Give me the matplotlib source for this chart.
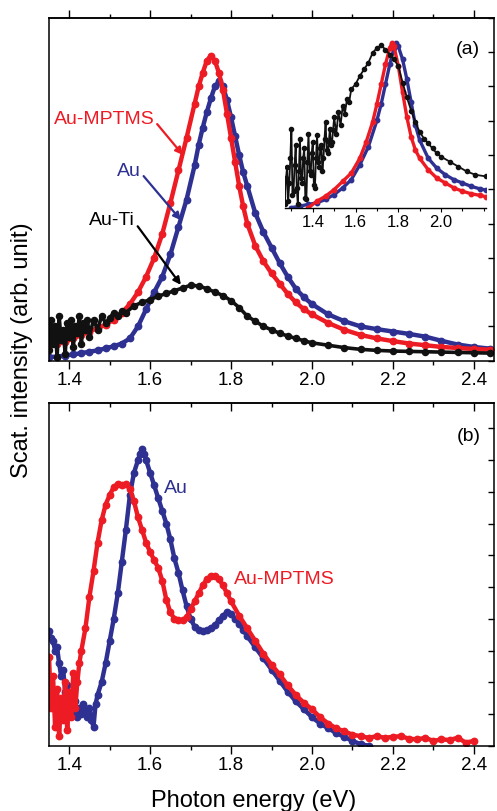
import matplotlib
matplotlib.use("Agg")
import matplotlib.pyplot as plt
from matplotlib.ticker import MultipleLocator

plt.rcParams['font.family'] = ['Liberation Sans', 'DejaVu Sans']

RED = '#ed1c24'
BLUE = '#2e3192'
BLACK = '#111111'

# ---- (a) dark-field spectra, single particles ----
e_au_a = [1.35, 1.37, 1.39, 1.41, 1.43, 1.45, 1.47, 1.49, 1.51, 1.53, 1.55, 1.57,
          1.59, 1.61, 1.63, 1.65, 1.67, 1.69, 1.71, 1.72, 1.73, 1.74, 1.75, 1.76,
          1.77, 1.78, 1.79, 1.80, 1.81, 1.82, 1.83, 1.84, 1.86, 1.88, 1.90, 1.92,
          1.94, 1.96, 1.98, 2.00, 2.04, 2.08, 2.12, 2.16, 2.20, 2.24, 2.28, 2.32,
          2.36, 2.40, 2.44]
au_a = [0.010, 0.012, 0.015, 0.018, 0.022, 0.026, 0.030, 0.036, 0.042, 0.050, 0.065,
        0.100, 0.150, 0.200, 0.245, 0.310, 0.390, 0.470, 0.570, 0.630, 0.680, 0.725,
        0.765, 0.800, 0.815, 0.800, 0.760, 0.710, 0.655, 0.600, 0.550, 0.510, 0.430,
        0.375, 0.330, 0.285, 0.245, 0.210, 0.185, 0.165, 0.135, 0.115, 0.100, 0.092,
        0.085, 0.078, 0.070, 0.058, 0.047, 0.040, 0.035]

e_mptms_a = [1.35, 1.37, 1.39, 1.41, 1.43, 1.45, 1.47, 1.49, 1.51, 1.53, 1.55, 1.57,
             1.59, 1.61, 1.63, 1.65, 1.67, 1.69, 1.71, 1.72, 1.73, 1.74, 1.75, 1.76,
             1.77, 1.78, 1.79, 1.80, 1.81, 1.82, 1.83, 1.84, 1.86, 1.88, 1.90, 1.92,
             1.94, 1.96, 1.98, 2.00, 2.04, 2.08, 2.12, 2.16, 2.20, 2.24, 2.28, 2.32,
             2.36, 2.40, 2.44]
mptms_a = [0.045, 0.050, 0.055, 0.065, 0.075, 0.085, 0.095, 0.105, 0.120, 0.140, 0.165,
           0.200, 0.245, 0.300, 0.370, 0.460, 0.555, 0.650, 0.750, 0.800, 0.840, 0.875,
           0.890, 0.875, 0.840, 0.790, 0.720, 0.650, 0.580, 0.510, 0.450, 0.400, 0.335,
           0.290, 0.255, 0.225, 0.195, 0.170, 0.150, 0.135, 0.110, 0.090, 0.075, 0.065,
           0.057, 0.050, 0.045, 0.040, 0.037, 0.034, 0.032]

e_ti_a = [1.350, 1.355, 1.360, 1.365, 1.370, 1.375, 1.380, 1.385, 1.390, 1.395, 1.400,
          1.405, 1.410, 1.415, 1.420, 1.425, 1.430, 1.435, 1.440, 1.445, 1.450, 1.46,
          1.47, 1.48, 1.49, 1.50, 1.51, 1.52, 1.53, 1.54, 1.56, 1.58, 1.60, 1.62, 1.64,
          1.66, 1.68, 1.70, 1.72, 1.74, 1.76, 1.78, 1.80, 1.82, 1.84, 1.86, 1.88, 1.90,
          1.92, 1.94, 1.96, 1.98, 2.00, 2.04, 2.08, 2.12, 2.16, 2.20, 2.24, 2.28, 2.32,
          2.36, 2.40, 2.44]
ti_a = [0.03, 0.12, 0.05, 0.10, 0.01, 0.13, 0.06, 0.09, 0.02, 0.11, 0.07, 0.12, 0.04,
        0.10, 0.08, 0.13, 0.05, 0.11, 0.09, 0.12, 0.07, 0.12, 0.09, 0.13, 0.11, 0.125,
        0.14, 0.13, 0.145, 0.14, 0.16, 0.17, 0.178, 0.188, 0.196, 0.204, 0.212, 0.220,
        0.218, 0.210, 0.200, 0.190, 0.175, 0.155, 0.130, 0.115, 0.100, 0.090, 0.080,
        0.072, 0.065, 0.058, 0.052, 0.045, 0.038, 0.033, 0.030, 0.028, 0.027, 0.026,
        0.025, 0.024, 0.023, 0.022]

# ---- inset: normalized spectra ----
e_au_in = [1.30, 1.34, 1.38, 1.42, 1.46, 1.50, 1.54, 1.58, 1.62, 1.66, 1.70, 1.72,
           1.74, 1.76, 1.78, 1.79, 1.80, 1.82, 1.84, 1.86, 1.88, 1.90, 1.94, 1.98,
           2.02, 2.06, 2.10, 2.14, 2.18, 2.21]
au_in = [0.00, 0.01, 0.02, 0.03, 0.05, 0.08, 0.12, 0.17, 0.26, 0.37, 0.53, 0.63,
         0.75, 0.87, 0.97, 1.00, 0.98, 0.90, 0.78, 0.64, 0.50, 0.41, 0.30, 0.24,
         0.20, 0.17, 0.15, 0.13, 0.115, 0.107]

e_mptms_in = [1.38, 1.42, 1.46, 1.50, 1.54, 1.58, 1.62, 1.65, 1.68, 1.70, 1.72,
              1.74, 1.76, 1.77, 1.78, 1.80, 1.82, 1.84, 1.86, 1.88, 1.90, 1.94, 1.98,
              2.02, 2.06, 2.10, 2.14, 2.18, 2.21]
mptms_in = [0.00, 0.04, 0.07, 0.11, 0.16, 0.21, 0.30, 0.40, 0.52, 0.63, 0.75, 0.87,
            0.97, 1.00, 0.98, 0.86, 0.70, 0.55, 0.43, 0.35, 0.30, 0.23, 0.18, 0.15,
            0.12, 0.10, 0.085, 0.075, 0.067]

e_ti_in = [1.270, 1.275, 1.280, 1.285, 1.290, 1.295, 1.300, 1.305, 1.310, 1.315,
           1.320, 1.325, 1.330, 1.335, 1.340, 1.345, 1.350, 1.355, 1.360, 1.365,
           1.370, 1.375, 1.380, 1.385, 1.390, 1.395, 1.400, 1.405, 1.410, 1.415,
           1.420, 1.425, 1.430, 1.435, 1.440, 1.445, 1.450, 1.455, 1.460, 1.465,
           1.470, 1.475, 1.480, 1.485, 1.490, 1.495, 1.500, 1.51, 1.52, 1.53, 1.54,
           1.55, 1.56, 1.57, 1.58, 1.60, 1.62, 1.64, 1.66, 1.68, 1.70, 1.72, 1.74,
           1.76, 1.78, 1.80, 1.82, 1.84, 1.86, 1.88, 1.90, 1.92, 1.94, 1.96, 1.98,
           2.00, 2.04, 2.08, 2.12, 2.16, 2.21]
ti_in = [0.02, 0.18, 0.25, 0.04, 0.15, 0.30, 0.48, 0.08, 0.10, 0.26, 0.38, 0.12,
         0.02, 0.22, 0.42, 0.18, 0.15, 0.30, 0.36, 0.06, 0.05, 0.28, 0.45, 0.22,
         0.20, 0.33, 0.40, 0.14, 0.12, 0.30, 0.44, 0.28, 0.25, 0.36, 0.38, 0.22,
         0.30, 0.42, 0.52, 0.35, 0.33, 0.40, 0.48, 0.38, 0.40, 0.47, 0.55, 0.45,
         0.58, 0.50, 0.62, 0.57, 0.66, 0.64, 0.72, 0.75, 0.80, 0.84, 0.88, 0.94,
         0.97, 0.985, 0.96, 0.93, 0.90, 0.86, 0.76, 0.67, 0.59, 0.52, 0.46, 0.42,
         0.39, 0.36, 0.33, 0.31, 0.28, 0.25, 0.22, 0.20, 0.19]

# ---- (b) dimer spectra ----
e_au_b = [1.350, 1.355, 1.360, 1.365, 1.370, 1.375, 1.380, 1.385, 1.390, 1.395, 1.400,
          1.405, 1.410, 1.415, 1.420, 1.425, 1.430, 1.435, 1.440, 1.445, 1.450, 1.455,
          1.460, 1.465, 1.47, 1.48, 1.49, 1.50, 1.51, 1.52, 1.53, 1.54, 1.55, 1.56,
          1.57, 1.575, 1.58, 1.585, 1.59, 1.60, 1.61, 1.62, 1.63, 1.64, 1.65, 1.66,
          1.67, 1.68, 1.69, 1.70, 1.71, 1.72, 1.73, 1.74, 1.75, 1.76, 1.77, 1.78, 1.79,
          1.80, 1.81, 1.82, 1.83, 1.84, 1.86, 1.88, 1.90, 1.92, 1.94, 1.96, 1.98, 2.00,
          2.02, 2.04, 2.06, 2.08, 2.10, 2.12, 2.14]
au_b = [0.36, 0.34, 0.33, 0.30, 0.31, 0.26, 0.22, 0.24, 0.17, 0.19, 0.13, 0.15, 0.11,
        0.14, 0.09, 0.12, 0.10, 0.13, 0.11, 0.09, 0.12, 0.08, 0.06, 0.13, 0.16, 0.20,
        0.26, 0.33, 0.40, 0.48, 0.58, 0.68, 0.79, 0.86, 0.90, 0.92, 0.935, 0.92, 0.90,
        0.86, 0.82, 0.78, 0.74, 0.70, 0.65, 0.59, 0.545, 0.49, 0.44, 0.40, 0.375,
        0.365, 0.36, 0.365, 0.37, 0.38, 0.395, 0.41, 0.42, 0.415, 0.40, 0.385, 0.365,
        0.345, 0.31, 0.275, 0.24, 0.205, 0.17, 0.14, 0.115, 0.09, 0.07, 0.055, 0.04,
        0.028, 0.015, 0.005, 0.0]

e_mptms_b = [1.350, 1.355, 1.360, 1.365, 1.370, 1.375, 1.380, 1.385, 1.390, 1.395,
             1.400, 1.405, 1.410, 1.415, 1.420, 1.425, 1.43, 1.44, 1.45, 1.46, 1.47,
             1.48, 1.49, 1.50, 1.51, 1.52, 1.53, 1.54, 1.55, 1.56, 1.57, 1.58, 1.59,
             1.60, 1.61, 1.62, 1.63, 1.64, 1.65, 1.66, 1.67, 1.68, 1.69, 1.70, 1.71,
             1.72, 1.73, 1.74, 1.75, 1.76, 1.77, 1.78, 1.79, 1.80, 1.82, 1.84, 1.86,
             1.88, 1.90, 1.92, 1.94, 1.96, 1.98, 2.00, 2.02, 2.04, 2.06, 2.08, 2.10,
             2.12, 2.14, 2.16, 2.18, 2.20, 2.22, 2.24, 2.26, 2.28, 2.30, 2.32, 2.34,
             2.36, 2.38, 2.40]
mptms_b = [0.28, 0.12, 0.22, 0.06, 0.18, 0.03, 0.15, 0.08, 0.20, 0.05, 0.17, 0.09,
           0.23, 0.12, 0.20, 0.26, 0.30, 0.37, 0.47, 0.55, 0.64, 0.71, 0.76, 0.79,
           0.815, 0.825, 0.82, 0.825, 0.81, 0.77, 0.72, 0.68, 0.64, 0.61, 0.585, 0.56,
           0.52, 0.46, 0.42, 0.40, 0.395, 0.395, 0.405, 0.43, 0.455, 0.48, 0.505,
           0.525, 0.535, 0.535, 0.525, 0.505, 0.48, 0.455, 0.41, 0.37, 0.33, 0.29,
           0.255, 0.225, 0.19, 0.16, 0.135, 0.115, 0.09, 0.07, 0.055, 0.045, 0.035,
           0.03, 0.025, 0.03, 0.025, 0.028, 0.03, 0.022, 0.02, 0.025, 0.015, 0.02,
           0.018, 0.025, 0.01, 0.015]

x_ticks = [1.4, 1.6, 1.8, 2.0, 2.2, 2.4]
inset_ticks = [1.4, 1.6, 1.8, 2.0]


def spectrum(ax, e, y, color, ms=4.6, lw=3.2):
    ax.plot(e, y, '-o', color=color, lw=lw, ms=ms, mec=color, mfc=color)


def style_axis(ax, top_dir):
    ax.set_xlim(1.35, 2.45)
    ax.set_xticks(x_ticks)
    ax.set_xticklabels([f"{t:.1f}" for t in x_ticks])
    ax.xaxis.set_minor_locator(MultipleLocator(0.1))
    ax.tick_params(axis='x', which='major', direction='out', length=6, width=1,
                   labelsize=13.5, pad=2)
    ax.tick_params(axis='x', which='minor', direction='out', length=3, width=1)
    ax.yaxis.tick_right()
    ax.yaxis.set_major_locator(MultipleLocator(0.1))
    ax.tick_params(axis='y', direction='in', length=4, width=1, labelright=False)
    for s in ax.spines.values():
        s.set_linewidth(1.1)
    top = ax.secondary_xaxis('top')
    top.set_xticks(x_ticks)
    top.xaxis.set_minor_locator(MultipleLocator(0.1))
    top.tick_params(axis='x', which='major', direction=top_dir, length=6, width=1,
                    labeltop=False)
    top.tick_params(axis='x', which='minor', direction=top_dir, length=3, width=1)
    top.spines['top'].set_linewidth(1.1)


fig = plt.figure(figsize=(4.97, 8.11), dpi=100)

# panel (a)
ax1 = fig.add_axes([0.0986, 0.5553, 0.8954, 0.4226])
spectrum(ax1, e_au_a, au_a, BLUE)
spectrum(ax1, e_mptms_a, mptms_a, RED)
spectrum(ax1, e_ti_a, ti_a, BLACK, ms=4.4, lw=2.6)
ax1.set_ylim(0, 1.0)
style_axis(ax1, 'out')

arrow = dict(arrowstyle='-|>', lw=1.6, mutation_scale=11, shrinkA=0, shrinkB=0)
ax1.annotate('Au-MPTMS', xy=(1.681, 0.60), xytext=(1.486, 0.705), color=RED,
             fontsize=14, ha='center', va='center',
             arrowprops=dict(arrow, color=RED, relpos=(1.0, 0.4)))
ax1.annotate('Au', xy=(1.676, 0.41), xytext=(1.5475, 0.553), color=BLUE,
             fontsize=14, ha='center', va='center',
             arrowprops=dict(arrow, color=BLUE, relpos=(1.0, 0.4)))
ax1.annotate('Au-Ti', xy=(1.676, 0.221), xytext=(1.5056, 0.408), color='black',
             fontsize=14, ha='center', va='center',
             arrowprops=dict(arrow, color='black', relpos=(1.0, 0.4)))
ax1.text(2.3846, 0.907, '(a)', fontsize=14, ha='center', va='center')

# inset with normalized curves
ax_in = fig.add_axes([0.5734, 0.7439, 0.4044, 0.2092])
ax_in.patch.set_alpha(0)
spectrum(ax_in, e_au_in, au_in, BLUE, ms=3.2, lw=2.4)
spectrum(ax_in, e_mptms_in, mptms_in, RED, ms=3.2, lw=2.4)
spectrum(ax_in, e_ti_in, ti_in, BLACK, ms=3.0, lw=1.3)
ax_in.set_xlim(1.27, 2.21)
ax_in.set_ylim(0, 1.03)
for side in ['top', 'left', 'right']:
    ax_in.spines[side].set_visible(False)
ax_in.spines['bottom'].set_linewidth(1.0)
ax_in.set_yticks([])
ax_in.set_xticks(inset_ticks)
ax_in.set_xticklabels([f"{t:.1f}" for t in inset_ticks])
ax_in.xaxis.set_minor_locator(MultipleLocator(0.1))
ax_in.tick_params(axis='x', which='major', direction='out', length=3, width=0.8,
                  labelsize=12, pad=2)
ax_in.tick_params(axis='x', which='minor', direction='out', length=2, width=0.8)

# panel (b)
ax2 = fig.add_axes([0.0986, 0.0805, 0.8954, 0.4226])
spectrum(ax2, e_au_b, au_b, BLUE)
spectrum(ax2, e_mptms_b, mptms_b, RED)
ax2.set_ylim(0, 1.08)
style_axis(ax2, 'in')
ax2.text(1.6636, 0.809, 'Au', color=BLUE, fontsize=14, ha='center', va='center')
ax2.text(1.9327, 0.525, 'Au-MPTMS', color=RED, fontsize=14, ha='center', va='center')
ax2.text(2.387, 0.973, '(b)', fontsize=14, ha='center', va='center')

fig.text(0.044, 0.568, 'Scat. intensity (arb. unit)', rotation=90, fontsize=17,
         ha='center', va='center')
fig.text(0.511, 0.005, 'Photon energy (eV)', fontsize=17, ha='center', va='baseline')

fig.savefig('out.png', dpi=100)
